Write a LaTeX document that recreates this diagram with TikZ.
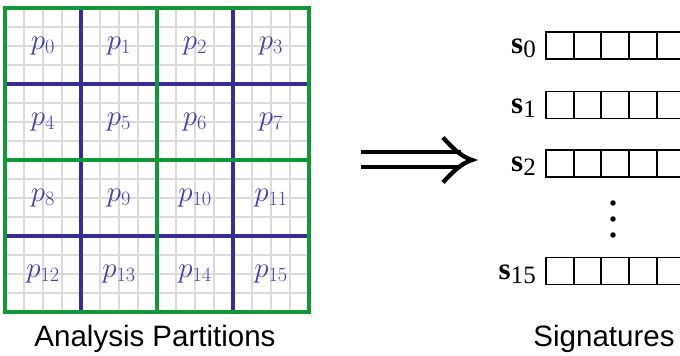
\RequirePackage{fix-cm}
\documentclass[tikz,border=0pt]{standalone}
\usepackage{fontspec}
\setmainfont{Liberation Serif}
\newfontfamily\capfont{Liberation Sans}
\definecolor{gridgreen}{RGB}{18,152,58}
\definecolor{lineblue}{RGB}{55,45,150}
\definecolor{labblue}{RGB}{68,62,168}
\definecolor{finegray}{RGB}{218,218,218}
\tikzset{
  fine/.style={draw=finegray,line width=1.3pt},
  partline/.style={draw=lineblue,line width=3.3pt},
  quadline/.style={draw=gridgreen,line width=4.4pt},
  plab/.style={text=labblue,inner sep=0pt,font=\fontsize{29}{34}\selectfont},
  slab/.style={inner sep=0pt,anchor=base east},
  sigline/.style={draw=black,line width=1.9pt},
  caption/.style={inner sep=0pt,anchor=base,font=\capfont\fontsize{29.5}{34}\selectfont},
  bigdot/.style={fill=black,circle,inner sep=0pt,minimum size=5.5pt}
}
\newcommand{\siglab}[1]{{\fontsize{31}{34}\selectfont\textbf{s}}\raisebox{-4pt}{\fontsize{25}{28}\selectfont #1}}
\begin{document}
\begin{tikzpicture}[x=1pt,y=-1pt]
\useasboundingbox (0,0) rectangle (680,356);
% fine grid
\foreach \i in {1,...,15}{
  \draw[fine] ({5+19*\i},8) -- ({5+19*\i},312);
  \draw[fine] (5,{8+19*\i}) -- (309,{8+19*\i});
}
% partition lines
\foreach \v in {81,233}{
  \draw[partline] (\v,8) -- (\v,312);
  \draw[partline] (5,{\v+3}) -- (309,{\v+3});
}
% quadrant lines
\draw[quadline] (157,8) -- (157,312);
\draw[quadline] (5,160) -- (309,160);
\draw[quadline] (5,8) rectangle (309,312);
% labels
\foreach \r in {0,...,3}{
  \foreach \c in {0,...,3}{
    \pgfmathtruncatemacro{\k}{4*\r+\c}
    \node[plab] (p\k) at ({5+76*(\c+0.5)},{8+76*(\r+0.5)}) {$p_{\k}$};
  }
}
\node[caption] (capA) at (155,346) {Analysis Partitions};
% arrow
\coordinate (arrS) at (361,152);
\coordinate (arrS2) at (361,167);
\coordinate (arrT) at (472,160);
\draw[line width=4pt] (arrS) -- ++(100,0);
\draw[line width=4pt] (arrS2) -- ++(100,0);
\draw[line width=4.3pt,line join=miter,miter limit=20,line cap=butt] (443,137.5) .. controls (455,151) and (463,157) .. (arrT) .. controls (463,163) and (455,169) .. (443,182.5);
% signatures
\foreach \n/\yc in {0/45.5,1/105,2/163.5,15/271}{
  \coordinate (sig\n) at (546,\yc);
  \draw[sigline] (680,{\yc-13.5}) -- (546,{\yc-13.5}) -- (546,{\yc+13.5}) -- (680,{\yc+13.5});
  \foreach \j in {1,...,4}{
    \draw[sigline] ({546+27.7*\j},{\yc-13.5}) -- ({546+27.7*\j},{\yc+13.5});
  }
  \node[slab] (s\n) at (536,{\yc+8}) {\siglab{\n}};
}
\node[bigdot] (d1) at (613,203) {};
\node[bigdot] (d2) at (613,219) {};
\node[bigdot] (d3) at (613,235) {};
\node[caption] (capB) at (604,346) {Signatures};
\end{tikzpicture}
\end{document}
